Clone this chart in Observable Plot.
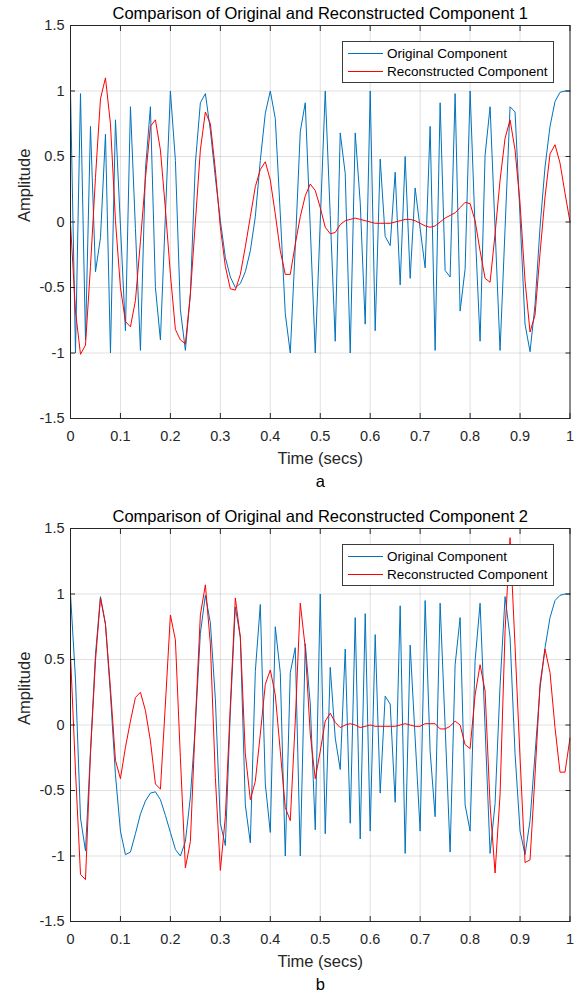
<!DOCTYPE html>
<html><head><meta charset="utf-8">
<script src="https://cdn.jsdelivr.net/npm/d3@7"></script>
<script src="https://cdn.jsdelivr.net/npm/@observablehq/plot@0.6"></script>
<style>
body{margin:0;background:#fff;}
#wrap{position:relative;width:583px;height:998px;font-family:"Liberation Sans",Arial,sans-serif;background:#fff;}
.panel{position:absolute;left:0;width:583px;height:499px;}
.legend{position:absolute;left:342px;width:210px;height:40px;border:1px solid #3a3a3a;background:#fff;font-size:13.5px;color:#000;}
.row{position:absolute;left:5px;height:16px;display:flex;align-items:center;white-space:nowrap;}
.sw{display:inline-block;width:35px;height:0;border-top:1px solid;margin-right:4px;}
</style></head>
<body>
<div id="wrap"></div>
<script>
const time = [0,0.01,0.02,0.03,0.04,0.05,0.06,0.07,0.08,0.09,0.1,0.11,0.12,0.13,0.14,0.15,0.16,0.17,0.18,0.19,0.2,0.21,0.22,0.23,0.24,0.25,0.26,0.27,0.28,0.29,0.3,0.31,0.32,0.33,0.34,0.35,0.36,0.37,0.38,0.39,0.4,0.41,0.42,0.43,0.44,0.45,0.46,0.47,0.48,0.49,0.5,0.51,0.52,0.53,0.54,0.55,0.56,0.57,0.58,0.59,0.6,0.61,0.62,0.63,0.64,0.65,0.66,0.67,0.68,0.69,0.7,0.71,0.72,0.73,0.74,0.75,0.76,0.77,0.78,0.79,0.8,0.81,0.82,0.83,0.84,0.85,0.86,0.87,0.88,0.89,0.9,0.91,0.92,0.93,0.94,0.95,0.96,0.97,0.98,0.99,1];

const original1 = [1.0,-1.0,0.98,-0.9,0.73,-0.38,-0.12,0.67,-1.0,0.78,-0.03,-0.83,0.88,-0.05,-0.98,0.4,0.88,-0.5,-0.9,0.05,
  1.0,0.47,-0.67,-0.98,-0.55,0.45,0.91,0.98,0.70,0.34,0.01,-0.27,-0.42,-0.50,-0.47,-0.38,-0.22,0.04,0.47,0.83,
  1.0,0.79,0.06,-0.70,-1.0,-0.19,0.69,0.91,-0.04,-1.0,0.0,1.0,0.05,-0.91,0.68,0.37,-1.0,0.68,0.15,-0.78,
  1.0,-0.83,0.48,-0.11,-0.18,0.38,-0.48,0.50,-0.43,0.26,-0.05,-0.35,0.73,-0.98,0.91,-0.37,-0.42,0.98,-0.68,-0.36,
  1.0,-0.05,-0.91,0.51,0.88,-0.05,-0.98,-0.05,0.88,0.84,0.04,-0.78,-0.99,-0.63,-0.04,0.42,0.73,0.92,0.99,1.0,1.0];

const reconstructed1 = [-0.01,-0.68,-1.01,-0.94,-0.34,0.34,0.94,1.1,0.75,0.01,-0.5,-0.76,-0.8,-0.6,-0.15,0.33,0.73,0.78,0.55,0.1,
  -0.4,-0.82,-0.9,-0.93,-0.55,0.0,0.55,0.84,0.75,0.40,-0.04,-0.34,-0.51,-0.52,-0.40,-0.19,0.04,0.27,0.40,0.46,
  0.32,0.06,-0.22,-0.40,-0.40,-0.17,0.04,0.20,0.29,0.24,0.11,-0.04,-0.09,-0.08,-0.02,0.01,0.02,0.03,0.02,0.01,
  0.0,-0.01,-0.01,-0.01,-0.01,0.0,0.01,0.02,0.02,0.01,-0.01,-0.03,-0.04,-0.03,0.0,0.03,0.05,0.07,0.11,0.15,
  0.14,0.01,-0.22,-0.43,-0.46,-0.09,0.32,0.64,0.78,0.55,0.14,-0.45,-0.84,-0.71,-0.24,0.19,0.52,0.59,0.45,0.22,0.0];

const original2 = [1.0,0.35,-0.71,-0.96,-0.2,0.54,0.98,0.77,0.23,-0.38,-0.81,-0.99,-0.97,-0.83,-0.68,-0.58,-0.52,-0.51,-0.57,-0.69,
  -0.82,-0.95,-1.0,-0.89,-0.55,0.0,0.7,0.99,0.78,0.2,-0.75,-0.92,0.1,0.9,0.67,-0.61,-0.9,0.41,0.92,-0.45,
  -0.82,0.75,0.40,-1.0,0.40,0.59,-1.0,0.62,0.16,-0.80,1.0,-0.83,0.44,-0.1,-0.34,0.58,-0.75,0.82,-0.87,0.85,
  -0.81,0.69,-0.52,0.22,0.16,-0.59,0.91,-0.98,0.61,-0.1,-0.81,0.95,-0.2,-0.70,0.93,-0.01,-0.97,0.46,0.82,-0.61,
  -0.81,0.49,0.93,-0.02,-0.98,-0.6,0.3,0.98,0.67,-0.22,-0.81,-0.99,-0.73,-0.22,0.28,0.59,0.82,0.95,0.99,1.0,1.0];

const reconstructed2 = [0.54,-0.35,-1.14,-1.18,-0.22,0.49,0.97,0.77,0.28,-0.27,-0.41,-0.17,0.03,0.21,0.25,0.11,-0.12,-0.45,-0.49,0.16,
  0.84,0.65,-0.25,-1.09,-0.89,0.03,0.84,1.07,0.62,-0.4,-1.11,-0.7,0.15,0.97,0.67,-0.22,-0.57,-0.43,-0.07,0.31,
  0.42,0.23,-0.2,-0.63,-0.73,0.03,0.93,0.59,-0.07,-0.41,-0.2,0.03,0.09,0.02,-0.02,0.0,0.01,0.0,-0.02,-0.01,
  0.0,-0.01,-0.01,-0.01,-0.01,-0.01,0.0,0.01,0.0,-0.01,-0.01,0.01,0.01,0.01,-0.03,-0.03,-0.01,0.03,0.0,-0.15,
  -0.18,0.23,0.46,0.26,-0.61,-1.13,-0.53,0.72,1.43,0.6,-0.25,-1.05,-1.03,-0.38,0.31,0.58,0.40,-0.02,-0.36,-0.36,-0.1];

const xTicks = [0,0.1,0.2,0.3,0.4,0.5,0.6,0.7,0.8,0.9,1];
const yTicks = [-1.5,-1,-0.5,0,0.5,1,1.5];
const titles = ["Comparison of Original and Reconstructed Component 1","Comparison of Original and Reconstructed Component 2"];
const xLabel = "Time (secs)";
const yLabel = "Amplitude";
const panelLetters = ["a","b"];
const seriesNames = ["Original Component","Reconstructed Component"];
const colors = ["#0072BD","#FF0000"];

function panel(orig, recon, title, letter, mt, mb) {
  const dO = time.map((t,i)=>({t, v: orig[i]}));
  const dR = time.map((t,i)=>({t, v: recon[i]}));
  const fmt = d => String(d);
  return Plot.plot({
    width: 583, height: 499,
    marginTop: mt, marginBottom: mb, marginLeft: 70, marginRight: 13.5,
    style: {fontFamily: "'Liberation Sans', Arial, sans-serif", fontSize: "14.5px", color: "#262626", background: "white", overflow: "visible"},
    x: {domain: [0,1]},
    y: {domain: [-1.5,1.5]},
    marks: [
      Plot.gridX(xTicks, {stroke: "#000", strokeOpacity: 0.12}),
      Plot.gridY(yTicks, {stroke: "#000", strokeOpacity: 0.12}),
      Plot.lineY(dO, {x: "t", y: "v", stroke: colors[0], strokeWidth: 1}),
      Plot.lineY(dR, {x: "t", y: "v", stroke: colors[1], strokeWidth: 1}),
      Plot.axisX({ticks: xTicks, anchor: "bottom", tickSize: -5, tickPadding: 17, tickFormat: fmt, label: null, stroke: "#262626", fill: "#262626"}),
      Plot.axisX({ticks: xTicks, anchor: "top", tickSize: -5, tickFormat: () => "", label: null, stroke: "#262626"}),
      Plot.axisY({ticks: yTicks, anchor: "left", tickSize: -5, tickPadding: 11, tickFormat: fmt, label: null, stroke: "#262626", fill: "#262626"}),
      Plot.axisY({ticks: yTicks, anchor: "right", tickSize: -5, tickFormat: () => "", label: null, stroke: "#262626"}),
      Plot.frame({stroke: "#262626"}),
      Plot.text([title], {text: d => d, frameAnchor: "top", lineAnchor: "middle", dy: -11.5, fontSize: 16.5, fill: "#000"}),
      Plot.text([xLabel], {text: d => d, frameAnchor: "bottom", lineAnchor: "middle", dy: 40, fontSize: 16.5, fill: "#262626"}),
      Plot.text([letter], {text: d => d, frameAnchor: "bottom", lineAnchor: "middle", dy: 63.5, fontSize: 16.5, fill: "#000"}),
      Plot.text([yLabel], {text: d => d, frameAnchor: "left", lineAnchor: "middle", dx: -46, rotate: -90, fontSize: 16.5, fill: "#262626"})
    ]
  });
}

function legend(top) {
  const lg = document.createElement("div");
  lg.className = "legend";
  lg.style.top = top + "px";
  seriesNames.forEach((name, i) => {
    const r = document.createElement("div");
    r.className = "row";
    r.style.top = (i === 0 ? 3.5 : 21.5) + "px";
    const sw = document.createElement("span");
    sw.className = "sw";
    sw.style.borderTopColor = colors[i];
    r.appendChild(sw);
    r.appendChild(document.createTextNode(name));
    lg.appendChild(r);
  });
  return lg;
}

const wrap = document.getElementById("wrap");
const specs = [
  {o: original1, r: reconstructed1, mt: 25, mb: 81, top: 0, lt: 41},
  {o: original2, r: reconstructed2, mt: 29, mb: 77, top: 499, lt: 544}
];
specs.forEach((s, k) => {
  const div = document.createElement("div");
  div.className = "panel";
  div.style.top = s.top + "px";
  div.appendChild(panel(s.o, s.r, titles[k], panelLetters[k], s.mt, s.mb));
  wrap.appendChild(div);
  wrap.appendChild(legend(s.lt));
});
</script>
</body></html>
